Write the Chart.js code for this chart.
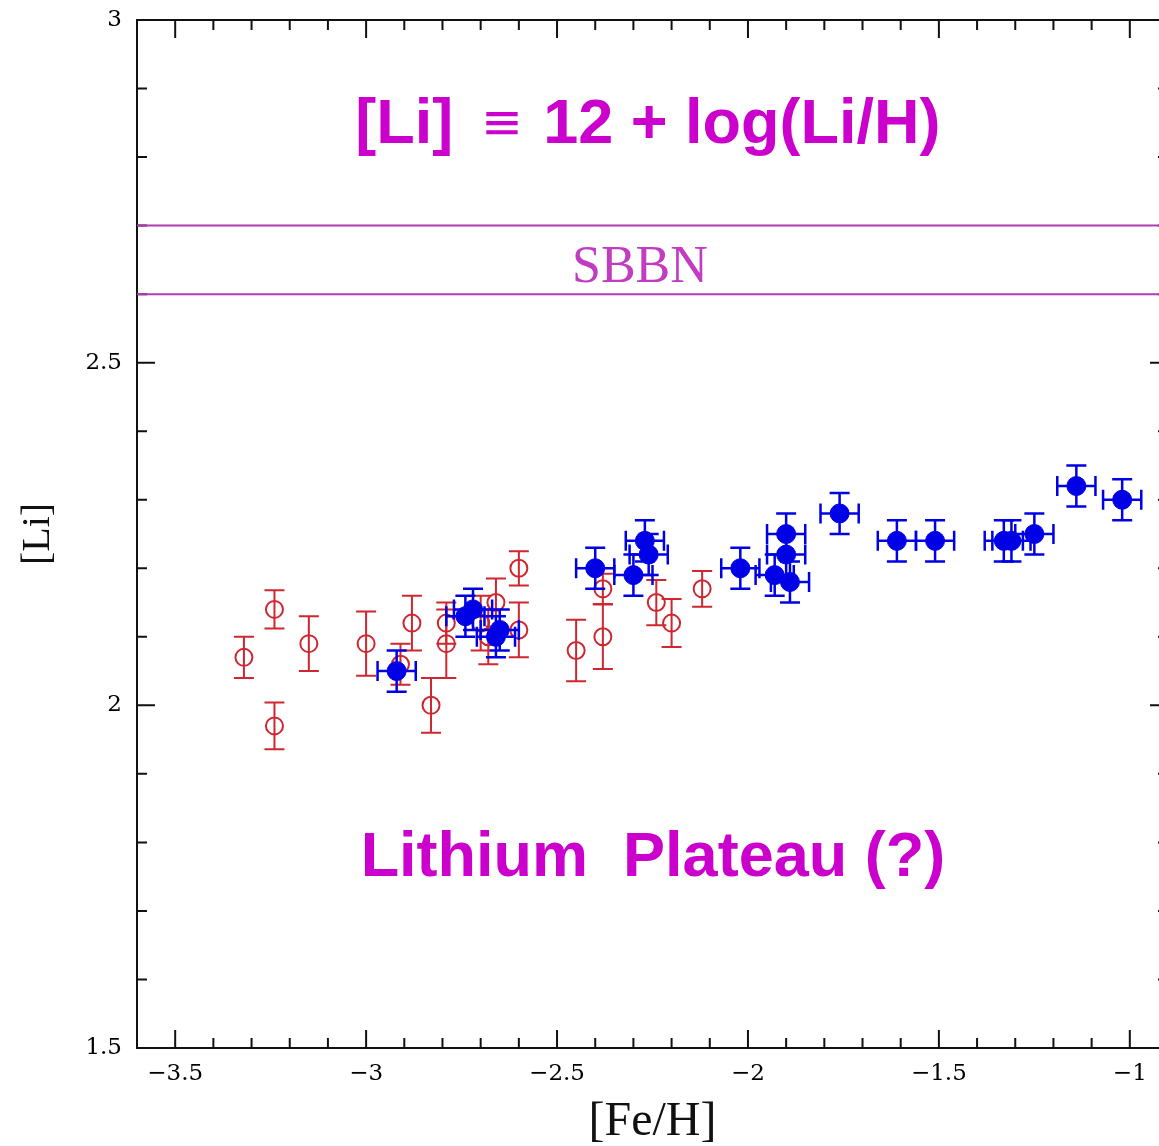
<!DOCTYPE html>
<html>
<head>
<meta charset="utf-8">
<script src="https://cdn.jsdelivr.net/npm/chart.js@4/dist/chart.umd.min.js"></script>
<style>
  html, body { margin: 0; padding: 0; background: #fff; overflow: hidden; width: 1159px; height: 1146px; }
  #wrap { width: 1185px; height: 1146px; }
</style>
</head>
<body>
<div id="wrap"><canvas id="c" width="1185" height="1146"></canvas></div>
<script>
// Halo dwarfs with [Fe/H] and lithium abundance (open circles: y errors only)
const redFeH   = [-3.32, -3.24, -3.24, -3.15, -3.00, -2.91, -2.88, -2.83, -2.79, -2.79, -2.70, -2.68, -2.66, -2.60, -2.60, -2.45, -2.38, -2.38, -2.24, -2.20, -2.12];
const redLi    = [ 2.07,  2.14,  1.97,  2.09,  2.09,  2.06,  2.12,  2.00,  2.12,  2.09,  2.12,  2.10,  2.15,  2.20,  2.11,  2.08,  2.17,  2.10,  2.15,  2.12,  2.17];
const redLiErr = [ 0.030, 0.028, 0.034, 0.040, 0.047, 0.030, 0.040, 0.040, 0.030, 0.050, 0.040, 0.040, 0.035, 0.025, 0.040, 0.045, 0.022, 0.047, 0.033, 0.035, 0.026];

// Second sample (filled circles: errors in both coordinates)
const blueFeH    = [-2.92, -2.74, -2.72, -2.66, -2.65, -2.40, -2.30, -2.27, -2.26, -2.02, -1.93, -1.90, -1.90, -1.89, -1.76, -1.61, -1.51, -1.33, -1.31, -1.25, -1.14, -1.02];
const blueLi     = [ 2.05,  2.13,  2.14,  2.10,  2.11,  2.20,  2.19,  2.24,  2.22,  2.20,  2.19,  2.25,  2.22,  2.18,  2.28,  2.24,  2.24,  2.24,  2.24,  2.25,  2.32,  2.30];
const blueFeHErr = [ 0.05,  0.05,  0.05,  0.05,  0.05,  0.05,  0.05,  0.05,  0.05,  0.05,  0.05,  0.05,  0.05,  0.05,  0.05,  0.05,  0.05,  0.05,  0.05,  0.05,  0.05,  0.05];
const blueLiErr  = [ 0.03,  0.03,  0.03,  0.03,  0.03,  0.03,  0.03,  0.03,  0.03,  0.03,  0.03,  0.03,  0.03,  0.03,  0.03,  0.03,  0.03,  0.03,  0.03,  0.03,  0.03,  0.03];

// Standard BBN prediction band
const sbbnBand = [2.60, 2.70];

// Axis ranges and tick labels
const xRange = [-3.6, -0.9];
const yRange = [1.5, 3.0];
const xTickLabels = ['-3.5', '-3', '-2.5', '-2', '-1.5', '-1'];
const yTickLabels = ['1.5', '2', '2.5', '3'];

const RED = '#cf2630';
const BLUE = '#0000e6';
const MAGENTA = '#cc00cc';

function pts(xs, ys) { return xs.map((v, i) => ({ x: v, y: ys[i] })); }
function fmt(v) {
  const s = String(Math.round(v * 10) / 10);
  return s.replace('-', '\u2212');
}

// Error bars drawn underneath each scatter dataset
const errorBars = {
  id: 'errorBars',
  beforeDatasetDraw(chart, args) {
    const ds = chart.data.datasets[args.index];
    if (!ds.errY) return;
    const { ctx, scales: { x, y } } = chart;
    const cap = 10;
    ctx.save();
    ctx.strokeStyle = ds.borderColor;
    ctx.lineWidth = ds.errWidth || 2;
    ds.data.forEach((p, i) => {
      const px = x.getPixelForValue(p.x), py = y.getPixelForValue(p.y);
      const y0 = y.getPixelForValue(p.y - ds.errY[i]);
      const y1 = y.getPixelForValue(p.y + ds.errY[i]);
      ctx.beginPath();
      ctx.moveTo(px, y0); ctx.lineTo(px, y1);
      ctx.moveTo(px - cap, y0); ctx.lineTo(px + cap, y0);
      ctx.moveTo(px - cap, y1); ctx.lineTo(px + cap, y1);
      if (ds.errX) {
        const x0 = x.getPixelForValue(p.x - ds.errX[i]);
        const x1 = x.getPixelForValue(p.x + ds.errX[i]);
        ctx.moveTo(x0, py); ctx.lineTo(x1, py);
        ctx.moveTo(x0, py - cap); ctx.lineTo(x0, py + cap);
        ctx.moveTo(x1, py - cap); ctx.lineTo(x1, py + cap);
      }
      ctx.stroke();
    });
    ctx.restore();
  }
};

// Boxed frame with inward major/minor ticks on all four sides
const frameTicks = {
  id: 'frameTicks',
  beforeDatasetsDraw(chart) {
    const { ctx, chartArea: a, scales: { x, y } } = chart;
    ctx.save();
    ctx.strokeStyle = '#111';
    ctx.lineWidth = 2;
    ctx.strokeRect(a.left, a.top, a.right - a.left, a.bottom - a.top);
    ctx.beginPath();
    for (let i = Math.round(xRange[0] * 10); i <= Math.round(xRange[1] * 10); i++) {
      const px = x.getPixelForValue(i / 10);
      const len = (i % 5 === 0) ? 18 : 10;
      ctx.moveTo(px, a.bottom); ctx.lineTo(px, a.bottom - len);
      ctx.moveTo(px, a.top); ctx.lineTo(px, a.top + len);
    }
    for (let i = Math.round(yRange[0] * 10); i <= Math.round(yRange[1] * 10); i++) {
      const py = y.getPixelForValue(i / 10);
      const len = (i % 5 === 0) ? 18 : 10;
      ctx.moveTo(a.left, py); ctx.lineTo(a.left + len, py);
      ctx.moveTo(a.right, py); ctx.lineTo(a.right - len, py);
    }
    ctx.stroke();
    ctx.restore();
  }
};

// Text annotations placed in data coordinates
const annotations = {
  id: 'annotations',
  afterDraw(chart) {
    const { ctx, scales: { x, y } } = chart;
    ctx.save();

    // SBBN label between the band lines
    ctx.fillStyle = '#c23cc2';
    ctx.font = '52px "Liberation Serif"';
    ctx.textAlign = 'center';
    ctx.textBaseline = 'alphabetic';
    ctx.fillText('SBBN', x.getPixelForValue(-2.283), y.getPixelForValue(2.618));

    // Definition of [Li]
    ctx.fillStyle = MAGENTA;
    const bold = 'bold 63px "Liberation Sans"';
    ctx.font = bold;
    const a = '[Li]', b = '12 + log(Li/H)';
    const wa = ctx.measureText(a).width, wb = ctx.measureText(b).width;
    const gap = 90;
    const cx = x.getPixelForValue(-2.262), by = y.getPixelForValue(2.821);
    const sx = cx - (wa + gap + wb) / 2;
    ctx.textAlign = 'left';
    ctx.fillText(a, sx, by);
    ctx.font = '50px "DejaVu Sans"';
    ctx.textAlign = 'center';
    ctx.fillText('\u2261', sx + wa + gap / 2 + 4, by - 4);
    ctx.font = bold;
    ctx.textAlign = 'left';
    ctx.fillText(b, sx + wa + gap, by);

    // Plateau caption
    ctx.textAlign = 'center';
    ctx.fillText('Lithium  Plateau (?)', x.getPixelForValue(-2.249), y.getPixelForValue(1.751));
    ctx.restore();
  }
};

new Chart(document.getElementById('c'), {
  type: 'scatter',
  data: {
    datasets: [
      {
        label: 'filled',
        data: pts(blueFeH, blueLi),
        errX: blueFeHErr,
        errY: blueLiErr,
        errWidth: 2.5,
        backgroundColor: BLUE,
        borderColor: BLUE,
        borderWidth: 1,
        pointRadius: 9.5,
        order: 0
      },
      {
        label: 'open',
        data: pts(redFeH, redLi),
        errY: redLiErr,
        errWidth: 2,
        backgroundColor: 'rgba(0,0,0,0)',
        borderColor: RED,
        borderWidth: 2,
        pointRadius: 8.5,
        order: 1
      },
      {
        type: 'line',
        label: 'SBBN high',
        data: [{ x: xRange[0], y: sbbnBand[1] }, { x: xRange[1], y: sbbnBand[1] }],
        borderColor: '#b03cb0',
        borderWidth: 2,
        pointRadius: 0,
        order: 2
      },
      {
        type: 'line',
        label: 'SBBN low',
        data: [{ x: xRange[0], y: sbbnBand[0] }, { x: xRange[1], y: sbbnBand[0] }],
        borderColor: '#b03cb0',
        borderWidth: 2,
        pointRadius: 0,
        order: 2
      }
    ]
  },
  options: {
    responsive: false,
    devicePixelRatio: 1,
    animation: false,
    layout: { padding: { top: 20, right: 17, left: 0, bottom: 0 } },
    plugins: { legend: { display: false }, tooltip: { enabled: false } },
    scales: {
      x: {
        type: 'linear',
        min: xRange[0],
        max: xRange[1],
        grid: { display: false, drawTicks: false },
        border: { display: false },
        afterBuildTicks: s => { s.ticks = xTickLabels.map(t => ({ value: parseFloat(t) })); },
        afterFit: s => { s.height = 98; s.paddingLeft = 0; s.paddingRight = 0; },
        ticks: {
          padding: 12,
          color: '#000',
          font: { family: 'DejaVu Serif', size: 23 },
          callback: v => fmt(v)
        },
        title: {
          display: true,
          text: '[Fe/H]',
          color: '#111',
          font: { family: 'Liberation Serif', size: 48, lineHeight: 1 },
          padding: { top: 2, bottom: 0 }
        }
      },
      y: {
        type: 'linear',
        min: yRange[0],
        max: yRange[1],
        grid: { display: false, drawTicks: false },
        border: { display: false },
        afterBuildTicks: s => { s.ticks = yTickLabels.map(t => ({ value: parseFloat(t) })); },
        afterFit: s => { s.width = 137; s.paddingTop = 0; s.paddingBottom = 0; },
        ticks: {
          padding: 15,
          color: '#000',
          font: { family: 'DejaVu Serif', size: 23 },
          callback: v => fmt(v)
        },
        title: {
          display: true,
          text: '[Li]',
          color: '#111',
          font: { family: 'Liberation Serif', size: 40, lineHeight: 1 },
          padding: { top: 18, bottom: 0 }
        }
      }
    }
  },
  plugins: [errorBars, frameTicks, annotations]
});
</script>
</body>
</html>
